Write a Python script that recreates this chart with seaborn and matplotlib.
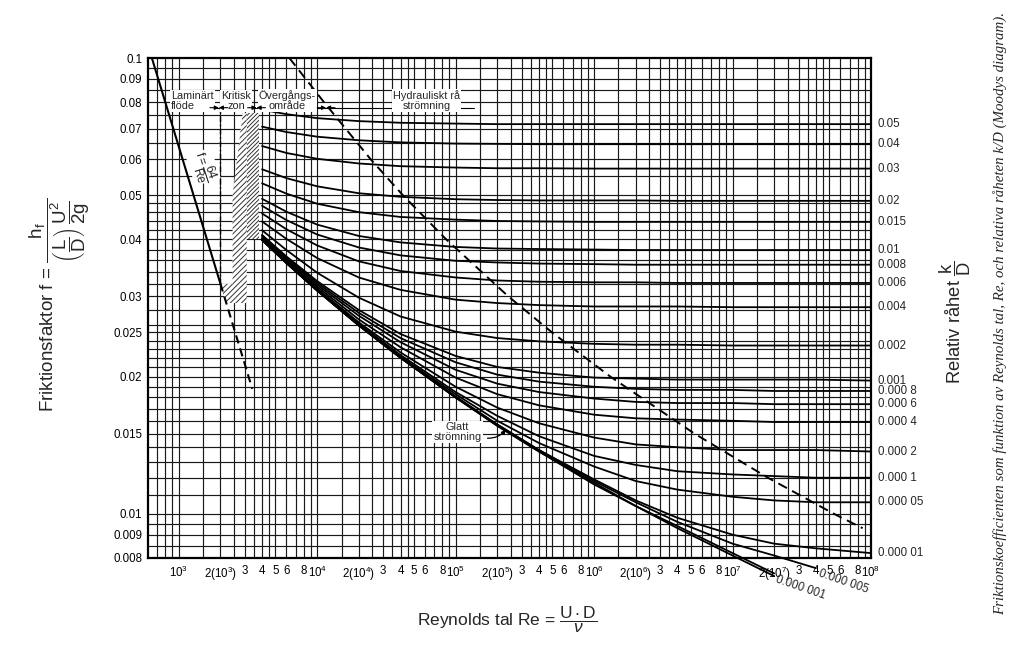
import numpy as np
import pandas as pd
import matplotlib
matplotlib.use("Agg")
import matplotlib.pyplot as plt
import seaborn as sns
from matplotlib.patches import Polygon

nan = np.nan

# ---------------- data ----------------
Re = [4e3, 6e3, 1e4, 2e4, 4e4, 1e5, 2e5, 4e5, 1e6, 2e6, 4e6, 1e7, 2e7, 4e7, 1e8]

k_05 = [0.0770, 0.0753, 0.0738, 0.0727, 0.0721, 0.0718, 0.0716, 0.0716, 0.0716, 0.0716, 0.0716, 0.0716, 0.0716, 0.0716, 0.0716]
k_04 = [0.0707, 0.0688, 0.0672, 0.0660, 0.0653, 0.0649, 0.0648, 0.0647, 0.0647, 0.0647, 0.0647, 0.0647, 0.0647, 0.0647, 0.0647]
k_03 = [0.0641, 0.0619, 0.0601, 0.0587, 0.0579, 0.0575, 0.0573, 0.0573, 0.0572, 0.0572, 0.0572, 0.0572, 0.0572, 0.0572, 0.0572]
k_02 = [0.0570, 0.0545, 0.0523, 0.0505, 0.0496, 0.0490, 0.0488, 0.0487, 0.0487, 0.0487, 0.0486, 0.0486, 0.0486, 0.0486, 0.0486]
k_015 = [0.0531, 0.0504, 0.0479, 0.0459, 0.0448, 0.0442, 0.0439, 0.0438, 0.0437, 0.0437, 0.0437, 0.0437, 0.0437, 0.0437, 0.0437]
k_01 = [0.0491, 0.0460, 0.0431, 0.0407, 0.0394, 0.0385, 0.0382, 0.0381, 0.0380, 0.0379, 0.0379, 0.0379, 0.0379, 0.0379, 0.0379]
k_008 = [0.0474, 0.0441, 0.0410, 0.0384, 0.0369, 0.0359, 0.0356, 0.0354, 0.0353, 0.0352, 0.0352, 0.0352, 0.0352, 0.0352, 0.0352]
k_006 = [0.0456, 0.0421, 0.0388, 0.0358, 0.0341, 0.0330, 0.0325, 0.0323, 0.0322, 0.0322, 0.0321, 0.0321, 0.0321, 0.0321, 0.0321]
k_004 = [0.0438, 0.0401, 0.0364, 0.0330, 0.0310, 0.0295, 0.0290, 0.0287, 0.0285, 0.0285, 0.0285, 0.0284, 0.0284, 0.0284, 0.0284]
k_002 = [0.0419, 0.0379, 0.0338, 0.0298, 0.0271, 0.0251, 0.0243, 0.0239, 0.0236, 0.0235, 0.0235, 0.0234, 0.0234, 0.0234, 0.0234]
k_001 = [0.0409, 0.0367, 0.0324, 0.0280, 0.0248, 0.0222, 0.0210, 0.0204, 0.0199, 0.0198, 0.0197, 0.0197, 0.0197, 0.0197, 0.0196]
k_0008 = [0.0408, 0.0365, 0.0321, 0.0276, 0.0243, 0.0215, 0.0202, 0.0195, 0.0190, 0.0188, 0.0187, 0.0187, 0.0186, 0.0186, 0.0186]
k_0006 = [0.0406, 0.0362, 0.0318, 0.0272, 0.0238, 0.0207, 0.0193, 0.0185, 0.0179, 0.0176, 0.0175, 0.0175, 0.0174, 0.0174, 0.0174]
k_0004 = [0.0403, 0.0360, 0.0315, 0.0267, 0.0232, 0.0199, 0.0183, 0.0173, 0.0165, 0.0162, 0.0161, 0.0160, 0.0159, 0.0159, 0.0159]
k_0002 = [0.0401, 0.0357, 0.0312, 0.0263, 0.0226, 0.0190, 0.0171, 0.0158, 0.0147, 0.0142, 0.0140, 0.0138, 0.0138, 0.0138, 0.0137]
k_0001 = [0.0400, 0.0356, 0.0310, 0.0261, 0.0223, 0.0185, 0.0164, 0.0148, 0.0134, 0.0128, 0.0124, 0.0122, 0.0121, 0.0120, 0.0120]
k_00005 = [0.0400, 0.0356, 0.0310, 0.0260, 0.0221, 0.0183, 0.0160, 0.0143, 0.0127, 0.0118, 0.0113, 0.0109, 0.0107, 0.0106, 0.0106]
k_00001 = [0.0399, 0.0355, 0.0309, 0.0259, 0.0220, 0.0181, 0.0157, 0.0138, 0.0119, 0.0107, 0.0098, 0.0090, 0.0086, 0.0084, 0.0082]
k_000005 = [0.0399, 0.0355, 0.0309, 0.0259, 0.0220, 0.0180, 0.0157, 0.0138, 0.0118, 0.0106, 0.0096, 0.0086, 0.0081, 0.0076, nan]
k_000001 = [0.0399, 0.0355, 0.0309, 0.0259, 0.0220, 0.0180, 0.0156, 0.0137, 0.0117, 0.0104, 0.0094, 0.0082, 0.0074, nan, nan]
smooth = [0.0399, 0.0355, 0.0309, 0.0259, 0.0220, 0.0180, 0.0156, 0.0137, 0.0116, 0.0104, 0.0093, 0.0081, 0.0073, nan, nan]

right_curves = [k_05, k_04, k_03, k_02, k_015, k_01, k_008, k_006, k_004, k_002,
                k_001, k_0008, k_0006, k_0004, k_0002, k_0001, k_00005, k_00001]
right_labels = ["0.05", "0.04", "0.03", "0.02", "0.015", "0.01", "0.008", "0.006",
                "0.004", "0.002", "0.001", "0.000 8", "0.000 6", "0.000 4",
                "0.000 2", "0.000 1", "0.000 05", "0.000 01"]
low_curves = [k_000005, k_000001, smooth]
low_labels = ["0.000 005", "0.000 001"]

# laminar flow f = 64/Re
lam_Re = [600, 2000]
lam_f = [0.1067, 0.032]
lam_dash_Re = [2000, 3400]
lam_dash_f = [0.032, 0.0188]

# boundary of fully rough flow (dashed)
rough_Re = [6300, 11200, 24300, 41600, 85500, 240000, 497000, 1.31e6, 5.3e6, 1.8e7, 5.4e7, 8.7e7]
rough_f = [0.1, 0.08, 0.06, 0.05, 0.04, 0.03, 0.025, 0.02, 0.015, 0.012, 0.01, 0.0093]

# critical zone hatching
hatchA_Re = [2450, 3100, 3100, 2900, 2450]
hatchA_f = [0.029, 0.029, 0.0757, 0.0757, 0.050]
hatchB_Re = [3100, 3800, 3800, 3100]
hatchB_f = [0.040, 0.040, 0.0757, 0.0757]
hatchC_Re = [2000, 2450, 2450, 2200]
hatchC_f = [0.032, 0.032, 0.029, 0.029]

# tick labels
y_ticks = [0.1, 0.09, 0.08, 0.07, 0.06, 0.05, 0.04, 0.03, 0.025, 0.02, 0.015, 0.01, 0.009, 0.008]
y_ticklabels = ["0.1", "0.09", "0.08", "0.07", "0.06", "0.05", "0.04", "0.03", "0.025",
                "0.02", "0.015", "0.01", "0.009", "0.008"]
x_ticks = []
x_ticklabels = []
for d in [3, 4, 5, 6, 7]:
    for m, lab in zip([1, 2, 3, 4, 5, 6, 8],
                      [r"$10^{%d}$" % d, r"$2(10^{%d})$" % d, "3", "4", "5", "6", "8"]):
        x_ticks.append(m * 10.0 ** d)
        x_ticklabels.append(lab)
x_ticks.append(1e8)
x_ticklabels.append(r"$10^{8}$")

# ---------------- style ----------------
sns.set_theme(style="white")
plt.rcParams["font.family"] = ["Liberation Sans", "DejaVu Sans"]
plt.rcParams["mathtext.fontset"] = "custom"
plt.rcParams["mathtext.rm"] = "Liberation Sans"
plt.rcParams["mathtext.it"] = "Liberation Sans:italic"
plt.rcParams["mathtext.bf"] = "Liberation Sans:bold"
plt.rcParams["mathtext.default"] = "regular"
plt.rcParams["hatch.linewidth"] = 0.7

fig = plt.figure(figsize=(10.24, 6.54), dpi=100)
ax = fig.add_axes([0.1445, 0.1468, 0.7061, 0.7645])
ax.set_xscale("log")
ax.set_yscale("log")
ax.set_xlim(600, 1e8)
ax.set_ylim(0.008, 0.1)

# grid
gc = "#1a1a1a"
mults = [1, 1.5, 2, 2.5, 3, 3.5, 4, 4.5, 5, 6, 7, 8, 9]
for dec in [1e2, 1e3, 1e4, 1e5, 1e6, 1e7]:
    for m in mults:
        v = m * dec
        if 600 < v < 1e8:
            ax.axvline(v, color=gc, lw=0.85, zorder=1)
hg = list(np.round(np.arange(0.0085, 0.0100, 0.0005), 5)) + \
     list(np.round(np.arange(0.010, 0.0255, 0.001), 4)) + \
     list(np.round(np.arange(0.026, 0.0505, 0.002), 4)) + \
     list(np.round(np.arange(0.055, 0.0999, 0.005), 4))
for v in hg:
    ax.axhline(v, color=gc, lw=0.85, zorder=1)

# hatched critical zone
for rx, fy, h in [(hatchA_Re, hatchA_f, "//////"), (hatchB_Re, hatchB_f, "////////"),
                  (hatchC_Re, hatchC_f, "//////")]:
    ax.add_patch(Polygon(list(zip(rx, fy)), closed=True, facecolor="white",
                         edgecolor="#333333", lw=0, hatch=h, zorder=2))

# roughness curves
for fv in right_curves:
    d = pd.DataFrame({"Re": Re, "f": fv}).dropna()
    sns.lineplot(data=d, x="Re", y="f", ax=ax, color="black", lw=1.3,
                 zorder=3, legend=False)
for fv in low_curves:
    d = pd.DataFrame({"Re": Re, "f": fv}).dropna()
    sns.lineplot(data=d, x="Re", y="f", ax=ax, color="black", lw=1.3,
                 zorder=3, legend=False, clip_on=False)

# laminar line
sns.lineplot(x=lam_Re, y=lam_f, ax=ax, color="black", lw=1.5, zorder=3, legend=False)
sns.lineplot(x=lam_dash_Re, y=lam_dash_f, ax=ax, color="black", lw=1.5,
             linestyle=(0, (4, 2.5)), zorder=3, legend=False)
# dashed line: complete turbulence boundary
sns.lineplot(x=rough_Re, y=rough_f, ax=ax, color="black", lw=1.4,
             linestyle=(0, (5, 3)), zorder=3, legend=False, sort=False)
# vertical dashed line at Re = 2000
ax.vlines(2000, 0.032, 0.0778, colors="black", lw=1.0, linestyles=(0, (4, 2, 1, 2)), zorder=3)

# ---------------- axes styling ----------------
ax.xaxis.set_minor_locator(matplotlib.ticker.NullLocator())
ax.yaxis.set_minor_locator(matplotlib.ticker.NullLocator())
ax.set_yticks(y_ticks)
ax.set_yticklabels(y_ticklabels)
ax.set_xticks(x_ticks)
ax.set_xticklabels(x_ticklabels)
ax.tick_params(axis="both", which="both", length=0, labelsize=8.3, colors="black")
ax.tick_params(axis="x", pad=5)
ax.tick_params(axis="y", pad=4)
ax.set_xlabel("")
ax.set_ylabel("")
for s in ax.spines.values():
    s.set_color("black")
    s.set_linewidth(1.6)
    s.set_zorder(5)

# right-hand roughness labels
for fv, lab in zip(right_curves, right_labels):
    ax.text(1.12e8, fv[-1], lab, fontsize=8.3, ha="left", va="center", clip_on=False)
ax.text(3.1e7, 0.0069, low_labels[1], fontsize=8.3, ha="center", va="center",
        rotation=-19, clip_on=False)
ax.text(6.3e7, 0.0071, low_labels[0], fontsize=8.3, ha="center", va="center",
        rotation=-19, clip_on=False)

# region labels at top
fl = 0.0778
ax.plot([1350, 1.35e5], [fl, fl], color="black", lw=0.8, zorder=4)
box = dict(facecolor="white", edgecolor="none", pad=0.8)
ax.text(880, 0.0805, "Laminärt\nflöde", fontsize=7.8, ha="left", va="center",
        linespacing=1.0, bbox=box, zorder=6)
ax.text(2614, 0.0805, "Kritisk\nzon", fontsize=7.8, ha="center", va="center",
        linespacing=1.0, bbox=box, zorder=6)
ax.text(6090, 0.0805, "Övergångs-\nområde", fontsize=7.8, ha="center", va="center",
        linespacing=1.0, bbox=box, zorder=6)
ax.text(61800, 0.0805, "Hydrauliskt rå\nströmning", fontsize=7.8, ha="center", va="center",
        linespacing=1.0, bbox=box, zorder=6)
for rb in [1950, 3650, 11600]:
    for fac in [1 / 1.16, 1.16]:
        ax.annotate("", xy=(rb, fl), xytext=(rb * fac, fl),
                    arrowprops=dict(arrowstyle="-|>", color="black", lw=0.8,
                                    mutation_scale=6, shrinkA=0, shrinkB=0), zorder=7)

# laminar label
ax.text(1500, 0.0577, r"$f=\dfrac{64}{Re}$", fontsize=8.5, rotation=-72,
        ha="center", va="center", bbox=dict(facecolor="white", edgecolor="none", pad=0.3),
        zorder=6)

# smooth pipe label
ax.text(1.03e5, 0.0151, "Glatt\nströmning", fontsize=7.8, ha="center", va="center",
        linespacing=1.0, bbox=box, zorder=6)
ax.annotate("", xy=(2.3e5, 0.0153), xytext=(1.7e5, 0.01465),
            arrowprops=dict(arrowstyle="-|>", color="black", lw=0.9, mutation_scale=6,
                            connectionstyle="arc3,rad=0.25", shrinkA=0, shrinkB=0),
            zorder=7)

# ---------------- axis titles ----------------
fig.text(0.058, 0.534,
         r"Friktionsfaktor f = $\dfrac{h_f}{\left(\dfrac{L}{D}\right)\,\dfrac{U^2}{2g}}$",
         rotation=90, ha="center", va="center", fontsize=13.5)
fig.text(0.933, 0.508, r"Relativ råhet $\dfrac{k}{D}$", rotation=90,
         ha="center", va="center", fontsize=13.2)
fig.text(0.495, 0.052, r"Reynolds tal Re = $\dfrac{U\cdot D}{\mathit{\nu}}$",
         ha="center", va="center", fontsize=12.5)
fig.text(0.9766, 0.521,
         "Friktionskoefficienten som funktion av Reynolds tal, Re, och relativa "
         "råheten k/D (Moodys diagram).",
         rotation=90, ha="center", va="center", fontsize=10.7,
         family="Liberation Serif", style="italic")

fig.savefig("out.png", dpi=100)
